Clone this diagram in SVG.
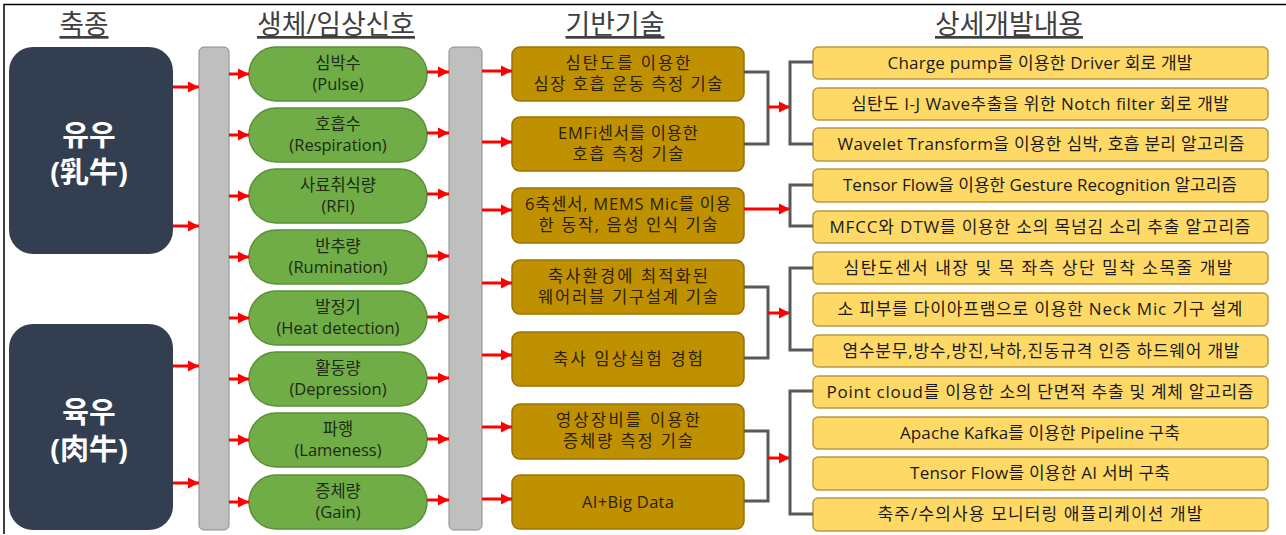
<svg xmlns="http://www.w3.org/2000/svg" width="1286" height="535" viewBox="0 0 1286 535">
<defs>
<marker id="ah" markerUnits="userSpaceOnUse" markerWidth="12" markerHeight="12" refX="11" refY="6" orient="auto">
<path d="M0,0.5 L11,6 L0,11.5 Z" fill="#FF0000"/>
</marker>
<style>
text{font-family:"Open Sans","Noto Sans CJK KR",sans-serif;text-anchor:middle}
.hd{font-size:27px;fill:#3f3f3f;text-decoration:underline}
.dk{fill:#333F50}
.dt{font-size:29px;font-weight:bold;fill:#ffffff}
.bar{fill:#BFBFBF;stroke:#8c8c8c;stroke-width:1}
.gr{fill:#70AD47;stroke:#5b8f3a;stroke-width:1.5}
.gt{font-size:16.5px;fill:#1e2a14}
.au{fill:#BF9000;stroke:#9a7400;stroke-width:1.5}
.at{font-size:16.5px;fill:#2b2000}
.ye{fill:#FFD966;stroke:#b59a4a;stroke-width:1.5}
.yt{font-size:17px;fill:#1a1a1a}
.ar{stroke:#FF0000;stroke-width:3;fill:none;marker-end:url(#ah)}
.cn{stroke:#595959;stroke-width:3;fill:none}
</style>
</defs>
<rect width="1286" height="535" fill="#ffffff"/>
<path d="M4,534 L4,4.5 L1286,4.5" fill="none" stroke="#000" stroke-width="1.5"/>

<g id="headers">
<text class="hd" x="84" y="34" textLength="49" lengthAdjust="spacingAndGlyphs">축종</text>
<text class="hd" x="336" y="34" textLength="158" lengthAdjust="spacingAndGlyphs">생체/임상신호</text>
<text class="hd" x="615" y="34" textLength="99" lengthAdjust="spacingAndGlyphs">기반기술</text>
<text class="hd" x="1009" y="34" textLength="148" lengthAdjust="spacingAndGlyphs">상세개발내용</text>
</g>

<g id="species-dairy">
<rect class="dk" x="9" y="47" width="164" height="207" rx="24"/>
<text class="dt" x="89" y="146">유우</text>
<text class="dt" x="89" y="183">(乳牛)</text>
</g>
<g id="species-beef">
<rect class="dk" x="9" y="324" width="164" height="206" rx="24"/>
<text class="dt" x="89" y="423">육우</text>
<text class="dt" x="89" y="460">(肉牛)</text>
</g>

<g id="bar1"><rect class="bar" x="199" y="47" width="30" height="483" rx="5"/></g>
<g id="bar2"><rect class="bar" x="449" y="47" width="33" height="483" rx="5"/></g>

<g id="sig-pulse"><rect class="gr" x="249" y="47" width="178" height="54" rx="27"/><text class="gt" x="338" y="69">심박수</text><text class="gt" x="338" y="90">(Pulse)</text></g>
<g id="sig-resp"><rect class="gr" x="249" y="108" width="178" height="54" rx="27"/><text class="gt" x="338" y="130">호흡수</text><text class="gt" x="338" y="151">(Respiration)</text></g>
<g id="sig-rfi"><rect class="gr" x="249" y="169" width="178" height="54" rx="27"/><text class="gt" x="338" y="191">사료취식량</text><text class="gt" x="338" y="212">(RFI)</text></g>
<g id="sig-rum"><rect class="gr" x="249" y="230" width="178" height="54" rx="27"/><text class="gt" x="338" y="252">반추량</text><text class="gt" x="338" y="273">(Rumination)</text></g>
<g id="sig-heat"><rect class="gr" x="249" y="291" width="178" height="54" rx="27"/><text class="gt" x="338" y="313">발정기</text><text class="gt" x="338" y="334">(Heat detection)</text></g>
<g id="sig-dep"><rect class="gr" x="249" y="352" width="178" height="54" rx="27"/><text class="gt" x="338" y="374">활동량</text><text class="gt" x="338" y="395">(Depression)</text></g>
<g id="sig-lame"><rect class="gr" x="249" y="413" width="178" height="54" rx="27"/><text class="gt" x="338" y="435">파행</text><text class="gt" x="338" y="456">(Lameness)</text></g>
<g id="sig-gain"><rect class="gr" x="249" y="475" width="178" height="54" rx="27"/><text class="gt" x="338" y="497">증체량</text><text class="gt" x="338" y="518">(Gain)</text></g>

<g id="tech-ecg"><rect class="au" x="512" y="47" width="232" height="54" rx="8"/><text class="at" x="628" y="69" textLength="125">심탄도를 이용한</text><text class="at" x="628" y="90" textLength="189">심장 호흡 운동 측정 기술</text></g>
<g id="tech-emfi"><rect class="au" x="512" y="117" width="232" height="54" rx="8"/><text class="at" x="628" y="139" textLength="140">EMFi센서를 이용한</text><text class="at" x="628" y="160" textLength="111">호흡 측정 기술</text></g>
<g id="tech-mems"><rect class="au" x="512" y="188" width="232" height="55" rx="8"/><text class="at" x="628" y="210" textLength="206">6축센서, MEMS Mic를 이용</text><text class="at" x="628" y="231" textLength="179">한 동작, 음성 인식 기술</text></g>
<g id="tech-wear"><rect class="au" x="512" y="260" width="232" height="54" rx="8"/><text class="at" x="628" y="282" textLength="160">축사환경에 최적화된</text><text class="at" x="628" y="303" textLength="180">웨어러블 기구설계 기술</text></g>
<g id="tech-clin"><rect class="au" x="512" y="332" width="232" height="54" rx="8"/><text class="at" x="628" y="365" textLength="150">축사 임상실험 경험</text></g>
<g id="tech-img"><rect class="au" x="512" y="404" width="232" height="55" rx="8"/><text class="at" x="628" y="426" textLength="144">영상장비를 이용한</text><text class="at" x="628" y="447" textLength="130">증체량 측정 기술</text></g>
<g id="tech-ai"><rect class="au" x="512" y="475" width="232" height="54" rx="8"/><text class="at" x="628" y="508" textLength="92">AI+Big Data</text></g>

<g id="dev-1"><rect class="ye" x="813" y="47" width="455" height="32" rx="5"/><text class="yt" x="1040" y="69" textLength="305">Charge pump를 이용한 Driver 회로 개발</text></g>
<g id="dev-2"><rect class="ye" x="813" y="88" width="455" height="32" rx="5"/><text class="yt" x="1040" y="110" textLength="378">심탄도 I-J Wave추출을 위한 Notch filter 회로 개발</text></g>
<g id="dev-3"><rect class="ye" x="813" y="128" width="455" height="33" rx="5"/><text class="yt" x="1041" y="150" textLength="407">Wavelet Transform을 이용한 심박, 호흡 분리 알고리즘</text></g>
<g id="dev-4"><rect class="ye" x="813" y="169" width="455" height="33" rx="5"/><text class="yt" x="1040" y="191" textLength="394">Tensor Flow을 이용한 Gesture Recognition 알고리즘</text></g>
<g id="dev-5"><rect class="ye" x="813" y="211" width="455" height="32" rx="5"/><text class="yt" x="1040" y="233" textLength="421">MFCC와 DTW를 이용한 소의 목넘김 소리 추출 알고리즘</text></g>
<g id="dev-6"><rect class="ye" x="813" y="252" width="455" height="32" rx="5"/><text class="yt" x="1038" y="274" textLength="389">심탄도센서 내장 및 목 좌측 상단 밀착 소목줄 개발</text></g>
<g id="dev-7"><rect class="ye" x="813" y="293" width="455" height="33" rx="5"/><text class="yt" x="1040" y="315" textLength="405">소 피부를 다이아프램으로 이용한 Neck Mic 기구 설계</text></g>
<g id="dev-8"><rect class="ye" x="813" y="335" width="455" height="32" rx="5"/><text class="yt" x="1041" y="357" textLength="397">염수분무,방수,방진,낙하,진동규격 인증 하드웨어 개발</text></g>
<g id="dev-9"><rect class="ye" x="813" y="376" width="455" height="32" rx="5"/><text class="yt" x="1040" y="398" textLength="427">Point cloud를 이용한 소의 단면적 추출 및 계체 알고리즘</text></g>
<g id="dev-10"><rect class="ye" x="813" y="417" width="455" height="32" rx="5"/><text class="yt" x="1040" y="439" textLength="280">Apache Kafka를 이용한 Pipeline 구축</text></g>
<g id="dev-11"><rect class="ye" x="813" y="457" width="455" height="33" rx="5"/><text class="yt" x="1040" y="479" textLength="260">Tensor Flow를 이용한 AI 서버 구축</text></g>
<g id="dev-12"><rect class="ye" x="813" y="498" width="455" height="33" rx="5"/><text class="yt" x="1040" y="520" textLength="325">축주/수의사용 모니터링 애플리케이션 개발</text></g>

<g id="connectors">
<line class="ar" x1="173" y1="87" x2="199" y2="87"/>
<line class="ar" x1="173" y1="226" x2="199" y2="226"/>
<line class="ar" x1="173" y1="366" x2="199" y2="366"/>
<line class="ar" x1="173" y1="483" x2="199" y2="483"/>

<line class="ar" x1="229" y1="74" x2="249" y2="74"/>
<line class="ar" x1="229" y1="135" x2="249" y2="135"/>
<line class="ar" x1="229" y1="196" x2="249" y2="196"/>
<line class="ar" x1="229" y1="257" x2="249" y2="257"/>
<line class="ar" x1="229" y1="318" x2="249" y2="318"/>
<line class="ar" x1="229" y1="379" x2="249" y2="379"/>
<line class="ar" x1="229" y1="440" x2="249" y2="440"/>
<line class="ar" x1="229" y1="502" x2="249" y2="502"/>

<line class="ar" x1="427" y1="72" x2="449" y2="72"/>
<line class="ar" x1="427" y1="133" x2="449" y2="133"/>
<line class="ar" x1="427" y1="194" x2="449" y2="194"/>
<line class="ar" x1="427" y1="256" x2="449" y2="256"/>
<line class="ar" x1="427" y1="317" x2="449" y2="317"/>
<line class="ar" x1="427" y1="378" x2="449" y2="378"/>
<line class="ar" x1="427" y1="439" x2="449" y2="439"/>
<line class="ar" x1="427" y1="500" x2="449" y2="500"/>

<line class="ar" x1="482" y1="71" x2="512" y2="71"/>
<line class="ar" x1="482" y1="142" x2="512" y2="142"/>
<line class="ar" x1="482" y1="210" x2="512" y2="210"/>
<line class="ar" x1="482" y1="283" x2="512" y2="283"/>
<line class="ar" x1="482" y1="355" x2="512" y2="355"/>
<line class="ar" x1="482" y1="427" x2="512" y2="427"/>
<line class="ar" x1="482" y1="499" x2="512" y2="499"/>

<path class="cn" d="M744,72 H768 V144 H744"/>
<line class="ar" x1="768" y1="107" x2="790" y2="107"/>
<path class="cn" d="M813,62 H790 V144 H813"/>

<line class="ar" x1="744" y1="209" x2="790" y2="209"/>
<path class="cn" d="M813,185 H790 V226 H813"/>

<path class="cn" d="M744,287 H768 V358 H744"/>
<line class="ar" x1="768" y1="313" x2="790" y2="313"/>
<path class="cn" d="M813,268 H790 V350 H813"/>

<path class="cn" d="M744,431 H768 V501 H744"/>
<line class="ar" x1="768" y1="458" x2="790" y2="458"/>
<path class="cn" d="M813,391 H790 V514 H813"/>
</g>
</svg>
